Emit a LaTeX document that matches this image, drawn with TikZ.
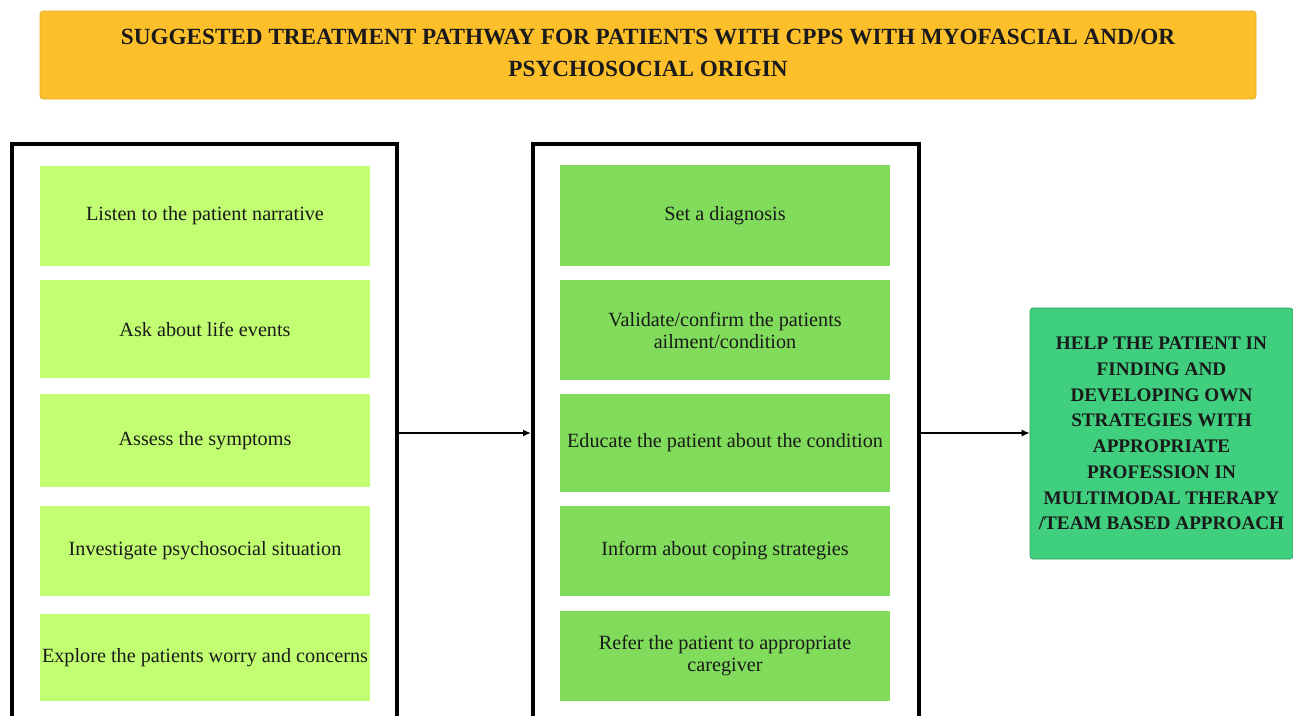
\documentclass[tikz,border=0pt]{standalone}
\usepackage{fontspec}
\setmainfont{Liberation Serif}
\usetikzlibrary{arrows.meta}
\definecolor{titlefill}{HTML}{FDC02B}
\definecolor{titleline}{HTML}{E3AE2A}
\definecolor{limefill}{HTML}{C1FE72}
\definecolor{midfill}{HTML}{80DC5A}
\definecolor{goalfill}{HTML}{3FCF7F}
\definecolor{goalline}{HTML}{2E9E60}
\definecolor{txt}{HTML}{1A1A1A}
\tikzset{
  stepbase/.style={rectangle, inner sep=0pt, outer sep=0pt, minimum width=330pt, align=center, text=txt,
    font=\fontsize{20.2}{22}\selectfont},
  lbox/.style={stepbase, fill=limefill},
  mbox/.style={stepbase, fill=midfill},
  frame/.style={rectangle, draw=black, line width=4pt, minimum height=578pt, inner sep=0pt},
  titlebox/.style={rectangle, rounded corners=3pt, fill=titlefill, draw=titleline, line width=0.6pt,
    minimum width=1216pt, minimum height=88pt, align=center, text=txt,
    font=\fontsize{23.2}{32}\selectfont\bfseries},
  goalbox/.style={rectangle, rounded corners=3pt, fill=goalfill, draw=goalline, line width=0.6pt,
    minimum width=263pt, minimum height=251pt, align=center, text=txt,
    font=\fontsize{19.2}{25.7}\selectfont\bfseries},
  flow/.style={line width=1.5pt, -{Latex[length=8pt,width=7pt]}}
}
\begin{document}
\begin{tikzpicture}[x=1pt,y=-1pt]
\useasboundingbox (0,0) rectangle (1293,715);
\clip (0,0) rectangle (1293,715);
\fill[white] (0,0) rectangle (1293,715);

\node[titlebox] (title) at (648,55) {SUGGESTED TREATMENT PATHWAY FOR PATIENTS WITH CPPS WITH MYOFASCIAL AND/OR\\PSYCHOSOCIAL ORIGIN\vphantom{g}};

\node[frame, minimum width=385pt] (lf) at (204.5,433) {};
\node[frame, minimum width=386pt] (mf) at (726,433) {};

\node[lbox, minimum height=100pt] (l1) at (205,216) {Listen to the patient narrative};
\node[lbox, minimum height=98pt] (l2) at (205,329) {Ask about life events};
\node[lbox, minimum height=93pt] (l3) at (205,440.5) {Assess the symptoms};
\node[lbox, minimum height=90pt] (l4) at (205,551) {Investigate psychosocial situation};
\node[lbox, minimum height=87pt] (l5) at (205,657.5) {Explore the patients worry and concerns};

\node[mbox, minimum height=101pt] (m1) at (725,215.5) {Set a diagnosis};
\node[mbox, minimum height=100pt] (m2) at (725,330) {Validate/confirm the patients\\ailment/condition};
\node[mbox, minimum height=98pt] (m3) at (725,443) {Educate the patient about the condition};
\node[mbox, minimum height=90pt] (m4) at (725,551) {Inform about coping strategies};
\node[mbox, minimum height=90pt] (m5) at (725,656) {Refer the patient to appropriate\\caregiver};

\node[goalbox] (goal) at (1161.5,433.5) {HELP THE PATIENT IN\\FINDING AND\\DEVELOPING OWN\\STRATEGIES WITH\\APPROPRIATE\\PROFESSION IN\\MULTIMODAL THERAPY\\/TEAM BASED APPROACH};

\draw[flow] (lf.east) -- (mf.west);
\draw[flow] (mf.east) -- (goal.west |- mf.east);
\end{tikzpicture}
\end{document}
